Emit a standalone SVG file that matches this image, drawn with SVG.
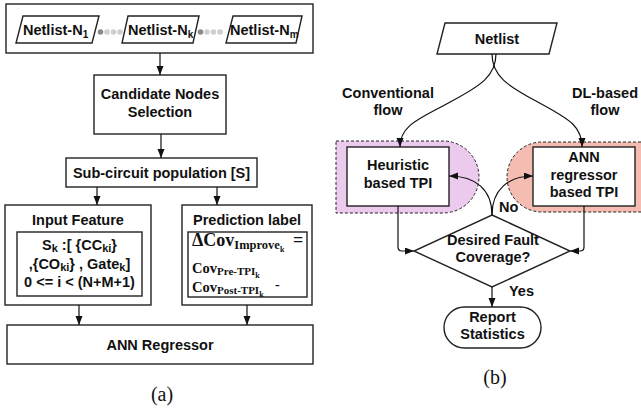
<svg xmlns="http://www.w3.org/2000/svg" width="641" height="412" viewBox="0 0 641 412">
<defs>
<marker id="ah" markerUnits="userSpaceOnUse" markerWidth="10" markerHeight="8" refX="9" refY="3.5" orient="auto">
<path d="M0,0 L9,3.5 L0,7 z" fill="#111"/>
</marker>
<style>
.box{fill:#fff;stroke:#222;stroke-width:1.4}
.t{font-family:"Liberation Sans",Arial,sans-serif;font-weight:bold;font-size:14.5px;fill:#111;text-anchor:middle}
.ts{font-family:"Liberation Sans",Arial,sans-serif;font-weight:bold;font-size:14.5px;fill:#111}
.m{font-family:"Liberation Serif","Times New Roman",serif;font-weight:bold;fill:#111}
.cap{font-family:"Liberation Serif","Times New Roman",serif;font-size:20px;fill:#111;text-anchor:middle}
.c{fill:none;stroke:#111;stroke-width:1.2}
.a{fill:none;stroke:#111;stroke-width:1.2;marker-end:url(#ah)}
.dash{stroke:#222;stroke-width:1;stroke-dasharray:3,2}
</style>
</defs>

<!-- (a) -->
<g id="netlists">
<rect class="box" x="6" y="4" width="307" height="49"/>
<polygon class="box" points="23,16 99,16 92,43 16,43"/>
<polygon class="box" points="128,16 199,16 193,43 122,43"/>
<polygon class="box" points="233,16 302,16 296,43 226,43"/>
<text class="ts" x="23" y="35">Netlist-N<tspan font-size="10" dy="3">1</tspan></text>
<text class="ts" x="128" y="35">Netlist-N<tspan font-size="10" dy="3">k</tspan></text>
<text class="ts" x="230" y="35">Netlist-N<tspan font-size="10" dy="3">m</tspan></text>
<circle cx="100.5" cy="32" r="2.8" fill="#8a8a8a"/>
<circle cx="107" cy="32" r="2.8" fill="#cfcfcf"/>
<circle cx="113.5" cy="32" r="2.8" fill="#cfcfcf"/>
<circle cx="120" cy="32" r="2.8" fill="#cfcfcf"/>
<circle cx="200.5" cy="32" r="2.8" fill="#8a8a8a"/>
<circle cx="207" cy="32" r="2.8" fill="#cfcfcf"/>
<circle cx="213.5" cy="32" r="2.8" fill="#cfcfcf"/>
<circle cx="220" cy="32" r="2.8" fill="#cfcfcf"/>
</g>
<g id="candidate">
<rect class="box" x="94" y="75" width="132" height="59"/>
<text class="t" x="160" y="99">Candidate Nodes</text>
<text class="t" x="160" y="117">Selection</text>
</g>
<g id="subcircuit">
<rect class="box" x="66" y="158" width="191" height="29"/>
<text class="t" x="161.5" y="177.5">Sub-circuit population [S]</text>
</g>
<g id="inputfeature">
<rect class="box" x="5" y="205" width="146" height="100"/>
<text class="t" x="78" y="225">Input Feature</text>
<rect class="box" x="17" y="232" width="125" height="64"/>
<text class="t" x="79.5" y="250">S<tspan font-size="11" dy="2">k</tspan><tspan dy="-2"> :[ {CC</tspan><tspan font-size="11" dy="2">ki</tspan><tspan dy="-2">}</tspan></text>
<text class="t" x="79.5" y="268.5">,{CO<tspan font-size="11" dy="2">ki</tspan><tspan dy="-2">} , Gate</tspan><tspan font-size="11" dy="2">k</tspan><tspan dy="-2">]</tspan></text>
<text class="t" x="79.5" y="287">0 &lt;= i &lt; (N+M+1)</text>
</g>
<g id="predictionlabel">
<rect class="box" x="182" y="205" width="130" height="100"/>
<text class="t" x="247" y="225">Prediction label</text>
<rect class="box" x="188" y="232" width="119" height="65"/>
<text class="m" x="192" y="246" font-size="18">ΔCov<tspan font-size="12.5" dy="3">Improve</tspan><tspan font-size="8" dy="3">k</tspan></text>
<text class="m" x="293" y="246" font-size="18">=</text>
<text class="m" x="192" y="273" font-size="14.5">Cov<tspan font-size="11" dy="2">Pre-TPI</tspan><tspan font-size="8" dy="3">k</tspan></text>
<text class="m" x="275" y="289" font-size="14">-</text>
<text class="m" x="192" y="292" font-size="14.5">Cov<tspan font-size="11" dy="2">Post-TPI</tspan><tspan font-size="8" dy="3">k</tspan></text>
</g>
<g id="annregressor">
<rect class="box" x="7" y="325" width="306" height="39"/>
<text class="t" x="160" y="349.5">ANN Regressor</text>
</g>
<text class="cap" x="162" y="401">(a)</text>

<!-- (b) -->
<g id="regions">
<path d="M336,141 H443 A36,36 0 0 1 443,213 H336 Z" fill="#eccaee" class="dash"/>
<path d="M646,142 H542 A35,35 0 0 0 542,212 H646 Z" fill="#f5bcb1" class="dash"/>
</g>
<g id="netlist">
<polygon class="box" points="445,23 557,23 549,54 437,54"/>
<text class="t" x="497" y="43.5">Netlist</text>
</g>
<g id="heuristic">
<rect class="box" x="347" y="147" width="102" height="59"/>
<text class="t" x="398" y="170">Heuristic</text>
<text class="t" x="398" y="188">based TPI</text>
</g>
<g id="annbased">
<rect class="box" x="533" y="147" width="102" height="59"/>
<text class="t" x="584" y="162">ANN</text>
<text class="t" x="584" y="180">regressor</text>
<text class="t" x="584" y="197">based TPI</text>
</g>
<g id="decision">
<polygon class="box" points="492,215 570,251 492,287 414,251"/>
<text class="t" x="493" y="245">Desired Fault</text>
<text class="t" x="493" y="262">Coverage?</text>
</g>
<g id="report">
<rect class="box" x="444" y="307" width="97" height="41" rx="20.5"/>
<text class="t" x="492.5" y="322">Report</text>
<text class="t" x="492.5" y="339">Statistics</text>
</g>
<g id="labels">
<text class="t" x="388" y="98">Conventional</text>
<text class="t" x="388" y="115">flow</text>
<text class="t" x="605" y="98">DL-based</text>
<text class="t" x="605" y="115">flow</text>
<text class="ts" x="499" y="212">No</text>
<text class="ts" x="509" y="296">Yes</text>
</g>
<text class="cap" x="495" y="384">(b)</text>

<g id="connectors">
<path class="a" d="M160,53 V75"/>
<path class="a" d="M161,134 V158"/>
<path class="a" d="M97,187 V205"/>
<path class="a" d="M217,187 V205"/>
<path class="a" d="M79,305 V325"/>
<path class="a" d="M247,305 V325"/>
<path class="a" d="M496,54 C496,76 480,86 452,101 C422,118 400,124 400,147"/>
<path class="a" d="M492,54 C492,76 508,86 536,101 C566,118 582,124 582,147"/>
<path class="a" d="M398,206 V247 Q398,251 402,251 H414"/>
<path class="a" d="M584,206 V247 Q584,251 580,251 H570"/>
<path class="a" d="M492,215 C492,190 476,176 449,176"/>
<path class="a" d="M492,215 C492,190 508,176 533,176"/>
<path class="a" d="M492,287 V307"/>
</g>
</svg>
